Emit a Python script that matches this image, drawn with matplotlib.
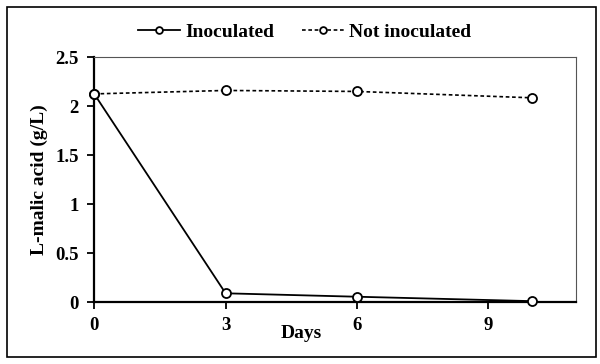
import matplotlib
matplotlib.use("Agg")
import matplotlib.pyplot as plt
from matplotlib.patches import Rectangle

days = [0, 3, 6, 10]
inoculated = [2.125, 0.09, 0.055, 0.01]
not_inoculated = [2.125, 2.16, 2.15, 2.085]
xticks = [0, 3, 6, 9]
yticks = [0, 0.5, 1, 1.5, 2, 2.5]
ytick_labels = ["0", "0.5", "1", "1.5", "2", "2.5"]

plt.rcParams['font.family'] = ['Liberation Serif', 'DejaVu Serif']
plt.rcParams['font.weight'] = 'bold'

fig = plt.figure(figsize=(6.0, 3.64), dpi=100)
ax = fig.add_axes([0.157, 0.170, 0.803, 0.673])

ax.plot(days, inoculated, '-', color='black', lw=1.3, marker='o', ms=6.5,
        mfc='white', mec='black', mew=1.3, label='Inoculated', clip_on=False, zorder=3)
ax.plot(days, not_inoculated, linestyle=(0, (2.2, 1.6)), color='black', lw=1.2, marker='o', ms=6.5,
        mfc='white', mec='black', mew=1.3, label='Not inoculated', clip_on=False, zorder=3)

ax.set_xlim(0, 11)
ax.set_ylim(0, 2.5)
ax.set_xticks(xticks)
ax.set_xticklabels([str(t) for t in xticks], fontsize=13.5, fontweight='bold')
ax.set_yticks(yticks)
ax.set_yticklabels(ytick_labels, fontsize=13.5, fontweight='bold')
ax.tick_params(axis='both', direction='out', length=5, width=1.3, color='black', pad=6)

for s in ['left', 'bottom']:
    ax.spines[s].set_linewidth(1.6)
    ax.spines[s].set_color('black')
for s in ['top', 'right']:
    ax.spines[s].set_linewidth(0.8)
    ax.spines[s].set_color('#555555')

ax.set_xlabel('Days', fontsize=14, fontweight='bold')
ax.xaxis.set_label_coords(0.43, -0.13)
ax.xaxis.label.set_va('center')
ax.set_ylabel('L-malic acid (g/L)', fontsize=14, fontweight='bold', labelpad=5)

leg = fig.legend(loc='center', bbox_to_anchor=(0.508, 0.912), ncol=2, frameon=False,
                 handlelength=2.15, columnspacing=1.4, handletextpad=0.3, markerscale=0.75,
                 prop={'weight': 'bold', 'size': 14})

fig.patches.append(Rectangle((0.011, 0.018), 0.983, 0.962, transform=fig.transFigure,
                             fill=False, edgecolor='black', lw=1.2))

fig.savefig('out.png', dpi=100)
